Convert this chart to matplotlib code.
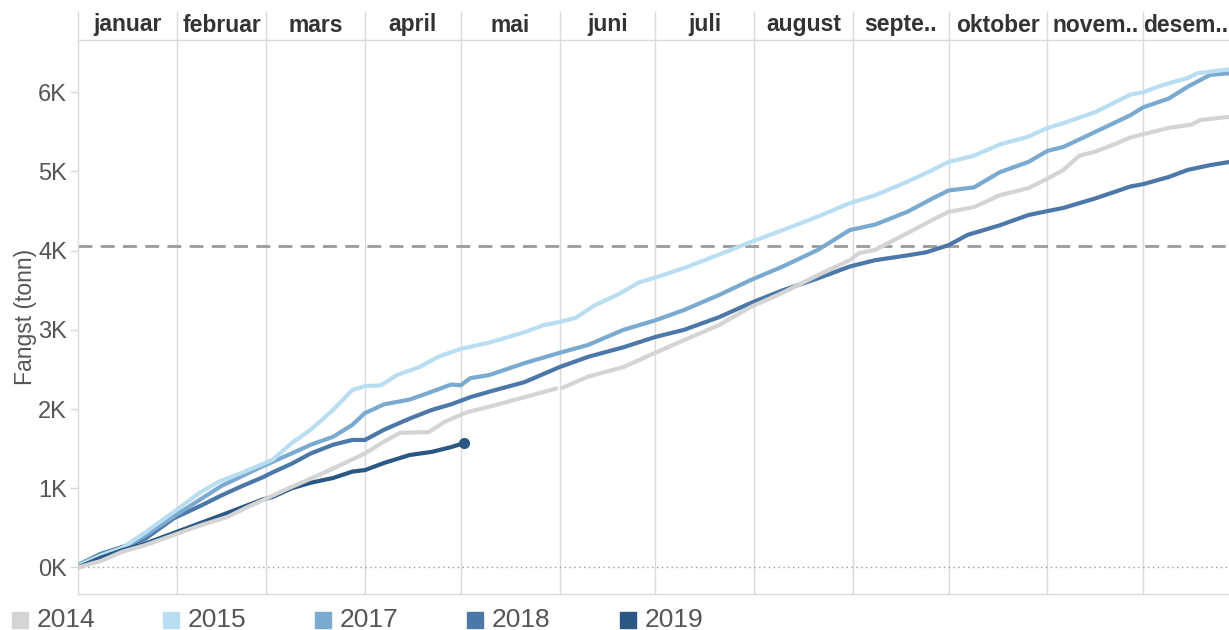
import matplotlib
matplotlib.use("Agg")
import matplotlib.pyplot as plt
import matplotlib.transforms as mtransforms
from matplotlib.patches import Rectangle
import numpy as np

# ---------------- data ----------------
months = ["januar", "februar", "mars", "april", "mai", "juni", "juli",
          "august", "septe..", "oktober", "novem..", "desem.."]
month_starts = [0, 31, 59, 90, 120, 151, 181, 212, 243, 273, 304, 334, 365]

days_2014 = [0, 7, 14, 21, 30, 39, 47, 53, 58, 66, 74, 80, 90, 96, 101, 110,
             115, 122, 129, 140, 150, 151, 152, 160, 171, 181, 190, 201, 211,
             221, 232, 242, 245, 250, 260, 268, 273, 281, 289, 298, 304, 309,
             314, 319, 326, 330, 334, 342, 349, 352, 361, 365]
v2014 = [0, 80, 200, 280, 410, 540, 640, 760, 850, 1000, 1140, 1250, 1440,
         1590, 1700, 1710, 1840, 1960, 2030, 2150, 2260, np.nan, 2270, 2410,
         2530, 2710, 2870, 3060, 3290, 3470, 3690, 3880, 3970, 4010, 4220,
         4390, 4490, 4550, 4700, 4790, 4910, 5020, 5200, 5250, 5360, 5430,
         5470, 5550, 5590, 5650, 5690, 5700]

days_2015 = [0, 7, 14, 21, 32, 38, 44, 51, 57, 61, 67, 73, 80, 86, 90, 95,
             100, 107, 113, 120, 129, 140, 146, 151, 156, 162, 169, 176, 181,
             190, 201, 211, 221, 232, 242, 250, 260, 268, 273, 281, 289, 298,
             304, 309, 319, 330, 334, 340, 348, 351, 361, 365]
v2015 = [20, 150, 250, 440, 760, 940, 1080, 1190, 1290, 1360, 1570, 1740,
         1990, 2240, 2290, 2300, 2430, 2530, 2660, 2760, 2840, 2970, 3060,
         3100, 3150, 3310, 3440, 3600, 3660, 3780, 3950, 4110, 4260, 4430,
         4600, 4700, 4870, 5020, 5120, 5200, 5340, 5440, 5550, 5610, 5750,
         5970, 6000, 6090, 6180, 6240, 6290, 6320]

days_2017 = [0, 7, 14, 21, 31, 45, 58, 67, 73, 80, 86, 90, 96, 104, 111, 117,
             120, 123, 129, 140, 151, 160, 171, 181, 190, 201, 211, 221, 232,
             242, 250, 260, 268, 273, 281, 289, 298, 304, 309, 319, 330, 334,
             342, 348, 355, 361, 365]
v2017 = [30, 150, 250, 400, 670, 1030, 1280, 1440, 1550, 1650, 1800, 1950,
         2060, 2120, 2220, 2310, 2300, 2390, 2430, 2580, 2710, 2810, 3000,
         3120, 3250, 3440, 3630, 3800, 4010, 4260, 4330, 4490, 4660, 4760,
         4800, 4990, 5120, 5260, 5310, 5500, 5710, 5810, 5920, 6070, 6220,
         6240, 6280]

days_2018 = [0, 7, 14, 21, 30, 39, 45, 51, 58, 61, 67, 73, 80, 86, 90, 96,
             104, 111, 117, 123, 129, 140, 151, 160, 171, 181, 190, 201, 211,
             221, 232, 242, 250, 260, 266, 273, 279, 289, 298, 304, 309, 319,
             330, 334, 342, 348, 355, 361, 365]
v2018 = [30, 170, 260, 360, 620, 790, 910, 1020, 1140, 1200, 1310, 1440,
         1550, 1610, 1610, 1740, 1880, 1990, 2060, 2150, 2220, 2340, 2530,
         2660, 2780, 2910, 3000, 3160, 3340, 3500, 3650, 3800, 3880, 3940,
         3980, 4070, 4200, 4320, 4450, 4500, 4540, 4660, 4810, 4840, 4930,
         5020, 5080, 5120, 5140]

days_2019 = [0, 7, 14, 21, 31, 45, 58, 61, 67, 73, 80, 86, 90, 96, 104, 111,
             117, 121]
v2019 = [0, 120, 220, 300, 450, 660, 860, 890, 1000, 1070, 1130, 1210, 1230,
         1320, 1420, 1460, 1520, 1570]

reference_line = 4060
y_ticks = [0, 1000, 2000, 3000, 4000, 5000, 6000]
y_tick_labels = ["0K", "1K", "2K", "3K", "4K", "5K", "6K"]

years = ["2014", "2015", "2017", "2018", "2019"]
colors = {"2014": "#d4d4d4", "2015": "#b9ddf1", "2017": "#7aaad0",
          "2018": "#4b78a8", "2019": "#2a5783"}

# ---------------- figure ----------------
W, H = 1229, 630
fig = plt.figure(figsize=(W / 100, H / 100), dpi=100)
px_left, px_right, px_top, px_bottom = 78, 1242, 40, 594
ax = fig.add_axes([px_left / W, 1 - px_bottom / H,
                   (px_right - px_left) / W, (px_bottom - px_top) / H])
ax.set_xlim(0, 365)
ax.set_ylim(-335, 6660)

grid_c = "#dadada"
text_c = "#555555"
font = "Liberation Sans"

# month dividers
for d in month_starts[1:-1]:
    ax.axvline(d, color=grid_c, lw=1, zorder=1)

ax.axhline(0, color="#9a9a9a", lw=1, ls=(0, (1, 2.5)), zorder=1)
ax.axhline(reference_line, color="#9a9a9a", lw=2, ls=(0, (5, 3)), zorder=1)

# series
kw = dict(lw=3, solid_capstyle="round", solid_joinstyle="round")
ax.plot(days_2018, v2018, color=colors["2018"], zorder=3, **kw)
ax.plot(days_2017, v2017, color=colors["2017"], zorder=3, **kw)
ax.plot(days_2015, v2015, color=colors["2015"], zorder=3, **kw)
ax.plot(days_2019, v2019, color=colors["2019"], zorder=4, **kw)
ax.plot(days_2019[-1:], v2019[-1:], "o", color=colors["2019"], ms=7, zorder=4)
ax.plot(days_2014, v2014, color=colors["2014"], zorder=5, **kw)

# axes styling
ax.spines["right"].set_visible(False)
for s in ["left", "bottom", "top"]:
    ax.spines[s].set_color(grid_c)
    ax.spines[s].set_linewidth(1)
ax.set_xticks([])
ax.set_yticks(y_ticks)
ax.set_yticklabels(y_tick_labels, fontsize=17, color=text_c, family=font)
ax.tick_params(axis="y", length=6, width=1, color=grid_c, pad=2)
ax.set_ylabel("Fangst (tonn)", fontsize=16.5, color=text_c, family=font,
              labelpad=1)

# header row with month names
trans = mtransforms.blended_transform_factory(ax.transData, ax.transAxes)
head_top = 1 + (px_top - 12) / (px_bottom - px_top)
visible_end = ax.transData.inverted().transform((W, 0))[0]
for d in month_starts[:-1]:
    ax.plot([d, d], [1, head_top], transform=trans, color=grid_c, lw=1,
            clip_on=False)
for i, name in enumerate(months):
    end = min(month_starts[i + 1], visible_end)
    mid = (month_starts[i] + end) / 2
    ax.text(mid, 1 + 15 / (px_bottom - px_top), name, transform=trans,
            ha="center", va="center", fontsize=16.5, fontweight="bold",
            color="#333333", family=font, clip_on=False)

# legend
leg_x = [12, 163, 315, 467, 620]
for xp, yr in zip(leg_x, years):
    fig.patches.append(Rectangle((xp / W, 1 - 628 / H), 16 / W, 16 / H,
                                 transform=fig.transFigure,
                                 color=colors[yr]))
    fig.text((xp + 25) / W, 1 - 620 / H, yr, fontsize=19, color=text_c,
             family=font, va="center", ha="left")

fig.savefig("out.png", dpi=100)
